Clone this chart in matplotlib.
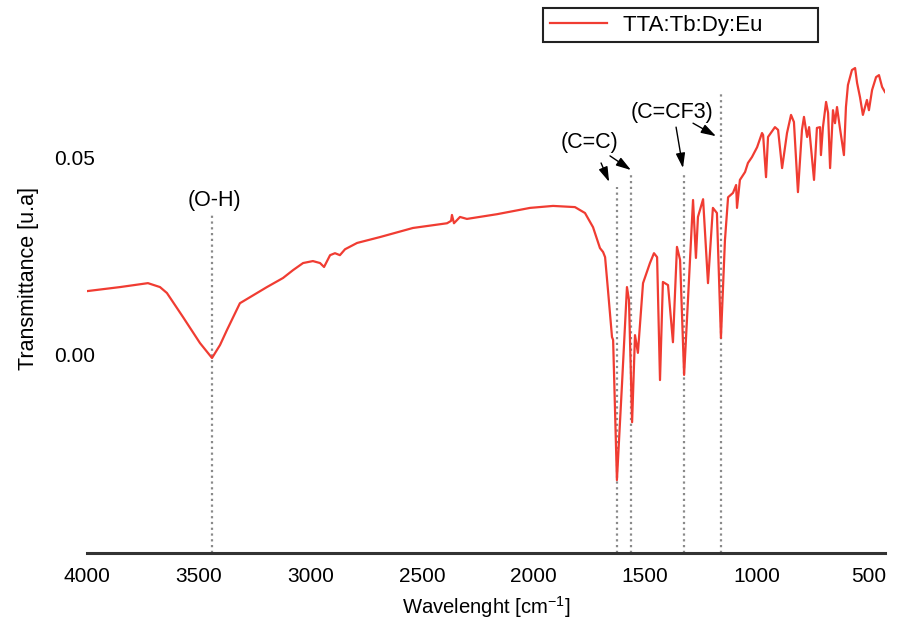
import matplotlib
matplotlib.use("Agg")
import matplotlib.pyplot as plt
import numpy as np

plt.rcParams['font.family'] = ['Liberation Sans', 'DejaVu Sans']
plt.rcParams['mathtext.fontset'] = 'custom'
plt.rcParams['mathtext.rm'] = 'Liberation Sans'
plt.rcParams['mathtext.it'] = 'Liberation Sans:italic'

# ---- data ----
wavenumber = [3996, 3852, 3727, 3673, 3642, 3570, 3494, 3440, 3404, 3373, 3315, 3194, 3122,
              3077, 3032, 2988, 2956, 2938, 2911, 2889, 2867, 2844, 2790, 2687, 2540, 2387,
              2369, 2365, 2356, 2329, 2298, 2163, 2015, 1912, 1814, 1769, 1733, 1702, 1688,
              1679, 1666, 1648, 1643, 1626, 1603, 1581, 1572, 1558, 1545, 1532, 1509, 1478,
              1460, 1446, 1433, 1420, 1397, 1375, 1357, 1343, 1325, 1307, 1285, 1272, 1263,
              1240, 1218, 1196, 1178, 1160, 1142, 1128, 1106, 1092, 1088, 1075, 1052, 1039,
              1021, 998, 976, 971, 958, 949, 918, 904, 886, 864, 846, 833, 815, 797, 788, 774,
              765, 743, 730, 716, 712, 703, 689, 680, 671, 658, 649, 640, 627, 609, 600, 591,
              573, 559, 550, 537, 524, 506, 497, 483, 465, 452, 438, 425]
transmittance = [0.0160, 0.0170, 0.0180, 0.0170, 0.0155, 0.0094, 0.0028, -0.0010, 0.0023,
                 0.0061, 0.0129, 0.0170, 0.0193, 0.0213, 0.0231, 0.0236, 0.0231, 0.0221,
                 0.0251, 0.0256, 0.0251, 0.0266, 0.0282, 0.0297, 0.0320, 0.0332, 0.0338,
                 0.0353, 0.0332, 0.0348, 0.0343, 0.0355, 0.0371, 0.0376, 0.0373, 0.0358,
                 0.0322, 0.0269, 0.0259, 0.0246, 0.0162, 0.0043, 0.0036, -0.0320, -0.0074,
                 0.0170, 0.0137, -0.0173, 0.0048, 0.0003, 0.0180, 0.0231, 0.0256, 0.0246,
                 -0.0066, 0.0183, 0.0175, 0.0030, 0.0272, 0.0239, -0.0053, 0.0145, 0.0391,
                 0.0244, 0.0348, 0.0393, 0.0180, 0.0371, 0.0358, 0.0041, 0.0289, 0.0398,
                 0.0409, 0.0429, 0.0371, 0.0442, 0.0462, 0.0485, 0.0500, 0.0525, 0.0561,
                 0.0556, 0.0449, 0.0551, 0.0576, 0.0569, 0.0472, 0.0561, 0.0607, 0.0589,
                 0.0411, 0.0569, 0.0602, 0.0551, 0.0576, 0.0442, 0.0574, 0.0576, 0.0505,
                 0.0576, 0.0640, 0.0612, 0.0472, 0.0619, 0.0586, 0.0627, 0.0574, 0.0505,
                 0.0627, 0.0683, 0.0721, 0.0726, 0.0688, 0.0652, 0.0607, 0.0645, 0.0619,
                 0.0670, 0.0703, 0.0708, 0.0678, 0.0665]
series_label = "TTA:Tb:Dy:Eu"

# marker lines: (wavenumber, top y)
peak_wn = [3440, 1626, 1563, 1325, 1160]
peak_top = [0.0353, 0.0424, 0.0454, 0.0454, 0.0665]

band_labels = ["(O-H)", "(C=C)", "(C=CF3)"]
band_label_x = [3431, 1751, 1379]
band_label_y = [0.0391, 0.0536, 0.0614]

# arrows: (start_x, start_y, end_x, end_y)
arrow_start_x = [1697, 1657, 1361, 1285]
arrow_start_y = [0.0485, 0.0503, 0.0576, 0.0586]
arrow_end_x = [1661, 1563, 1330, 1182]
arrow_end_y = [0.0437, 0.0467, 0.0472, 0.0553]

xticks = [4000, 3500, 3000, 2500, 2000, 1500, 1000, 500]
yticks = [0.00, 0.05]

# ---- figure ----
fig = plt.figure(figsize=(8.97, 6.24), dpi=100)
ax = fig.add_axes([87/897, 1-553/624, (885-87)/897, (553-5)/624])

ax.plot(wavenumber, transmittance, color='#f03c32', lw=1.6, label=series_label + "        ",
        zorder=3)

for xw, yt in zip(peak_wn, peak_top):
    ax.plot([xw, xw], [-0.0505, yt], color='#8a8a8a', ls=(0, (1, 1.6)), lw=1.6, zorder=2)

for t, xx, yy in zip(band_labels, band_label_x, band_label_y):
    ax.text(xx, yy, t, ha='center', va='center', fontsize=15.5, color='black')

for sx, sy, ex, ey in zip(arrow_start_x, arrow_start_y, arrow_end_x, arrow_end_y):
    ax.annotate('', xy=(ex, ey), xytext=(sx, sy),
                arrowprops=dict(arrowstyle='-|>,head_length=0.9,head_width=0.28',
                                color='black', lw=1.0, shrinkA=0, shrinkB=0))

ax.set_xlim(4000, 425)
ax.set_ylim(-0.0505, 0.0886)
ax.set_xticks(xticks)
ax.set_xticklabels([str(v) for v in xticks])
ax.set_yticks(yticks)
ax.set_yticklabels(["0.00", "0.05"])

for s in ['top', 'right', 'left']:
    ax.spines[s].set_visible(False)
ax.spines['bottom'].set_linewidth(2.2)
ax.spines['bottom'].set_color('#333333')

ax.tick_params(axis='x', length=0, pad=10, labelsize=15)
ax.tick_params(axis='y', length=0, pad=-6, labelsize=15)

ax.set_xlabel(r'Wavelenght [cm$^{\mathregular{-1}}$]', fontsize=14.6, labelpad=6)
ax.set_ylabel('Transmittance [u.a]', fontsize=15.5, labelpad=11)

leg = fig.legend(loc='upper left', bbox_to_anchor=(543/897, 1-8/624),
                 bbox_transform=fig.transFigure, borderaxespad=0,
                 fontsize=16, handlelength=2.6, handletextpad=0.7,
                 borderpad=0.3, fancybox=False, framealpha=1)
leg.get_frame().set_edgecolor('#222222')
leg.get_frame().set_linewidth(1.5)

fig.savefig('out.png', dpi=100)
